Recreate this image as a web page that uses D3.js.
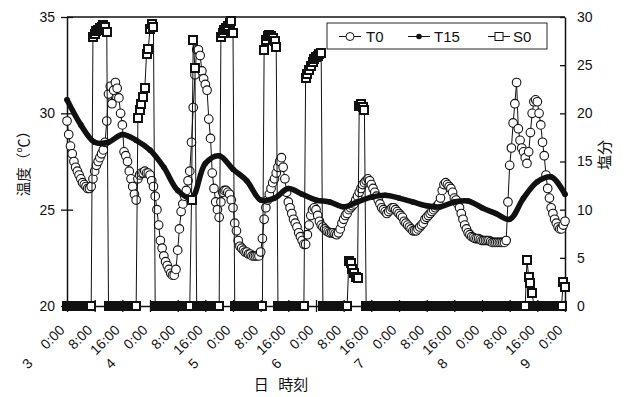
<!DOCTYPE html>
<html><head><meta charset="utf-8">
<script src="https://cdn.jsdelivr.net/npm/d3@7"></script>
<style>
html,body{margin:0;padding:0;background:#fff;}
svg{display:block;font-family:"Liberation Sans",Arial,sans-serif;}
</style></head><body>
<svg id="c" width="631" height="397"></svg>
<script>
// ---- data ----
const seriesNames = ["T0", "T15", "S0"];
const tickTimeLabels = ["0:00","8:00","16:00","0:00","8:00","16:00","0:00","8:00","16:00","0:00","8:00","16:00","0:00","8:00","16:00","0:00","8:00","16:00","0:00"];
const tickDayLabels  = ["3","","","4","","","5","","","6","","","7","","","8","","","9"];
const tempTicks = [20, 25, 30, 35];
const salTicks = [0, 5, 10, 15, 20, 25, 30];

// T0: surface temperature, every 30 minutes from day 3 0:00
const t0StepHours = 0.5;
const t0Values = [
  // day 3
  29.6,28.9,28.3,27.9,27.5,27.2,27.0,26.8,26.6,26.4,26.3,26.2,26.1,26.1,26.2,26.6,
  27.0,27.3,27.5,27.7,27.9,28.1,28.5,29.6,31.0,31.4,30.5,31.2,31.6,31.3,30.8,30.0,
  29.4,28.0,27.8,27.5,27.0,26.6,26.2,25.8,25.5,26.6,26.8,26.9,26.9,27.0,26.9,26.9,
  // day 4
  26.8,26.5,26.2,25.7,25.0,24.2,23.4,23.0,22.6,22.3,22.1,21.9,21.7,21.6,21.6,21.9,
  22.9,24.0,24.9,25.3,25.7,26.0,26.5,27.0,28.5,30.3,32.0,33.3,33.3,33.0,32.2,31.8,
  31.5,31.2,29.7,28.7,26.9,26.1,25.4,25.0,24.6,25.4,25.9,26.0,26.0,25.9,25.8,25.5,
  // day 5
  25.1,24.3,23.9,23.4,23.1,23.0,22.9,22.8,22.8,22.7,22.7,22.6,22.6,22.6,22.6,22.6,
  22.8,23.5,24.5,25.1,25.5,25.8,26.1,26.4,26.6,26.9,27.2,27.5,27.7,27.2,26.6,25.9,
  25.4,25.1,24.8,24.5,24.3,24.1,23.8,23.6,23.4,23.2,23.2,23.7,24.2,24.7,25.0,25.1,
  // day 6
  25.0,24.7,24.4,24.2,24.1,24.0,23.9,23.85,23.8,23.8,23.8,23.75,23.7,23.8,24.0,24.3,
  24.5,24.7,24.8,25.0,25.1,25.2,25.3,25.5,25.7,25.9,26.1,26.3,26.4,26.5,26.6,26.5,
  26.3,26.1,25.9,25.7,25.5,25.3,25.1,25.0,24.9,24.8,24.9,25.0,25.1,25.1,25.0,24.9,
  // day 7
  24.8,24.7,24.6,24.4,24.3,24.2,24.1,24.0,23.9,23.9,23.9,24.0,24.1,24.2,24.3,24.5,
  24.6,24.7,24.8,24.9,25.0,25.1,25.2,25.3,25.6,26.0,26.3,26.4,26.3,26.2,26.1,25.9,
  25.6,25.5,25.3,25.1,24.8,24.5,24.2,24.0,23.8,23.7,23.6,23.55,23.5,23.5,23.5,23.45,
  // day 8
  23.4,23.4,23.4,23.4,23.4,23.35,23.3,23.3,23.3,23.3,23.3,23.3,23.3,23.3,23.4,25.4,
  27.3,28.2,29.5,30.5,31.6,29.2,28.6,28.2,28.0,27.7,27.4,28.0,29.0,30.0,30.6,30.7,
  30.6,30.0,29.4,28.5,27.8,26.8,26.1,25.6,25.1,24.8,24.5,24.3,24.1,24.0,24.0,24.2,
  // day 9 0:00
  24.4
];

// T15: temperature at 15 cm, every 4 hours
const t15StepHours = 4;
const t15Values = [
  30.7,29.4,28.5,28.5,28.9,28.6,
  28.1,27.2,26.0,25.6,27.4,27.8,
  27.1,26.5,25.5,25.6,26.1,25.8,
  25.5,25.4,25.15,25.4,25.65,25.75,
  25.6,25.4,25.2,25.15,25.4,25.45,
  25.1,24.8,24.5,25.6,26.45,26.7,
  25.8
];

// S0: salinity, every 30 minutes
const s0StepHours = 0.5;
const s0Values = [
  // day 3
  0,0,0,0,0,0,0,0,0,0,0,0,0,0,0,
  27.9,28.2,28.5,28.7,28.9,29.0,29.2,29.0,28.4,
  0,0,0,0,0,0,0,0,0,0,0,0,0,0,0,0,0,
  19.5,20.3,21.0,21.7,22.6,26.2,26.7,
  // day 4
  28.8,29.3,29.0,
  0,0,0,0,0,0,0,0,0,0,0,0,0,0,0,0,0,0,0,0,0,
  11.0,27.6,24.7,
  0,0,0,0,0,0,0,0,0,0,0,0,0,0,
  27.9,28.3,28.6,28.9,29.1,29.4,29.6,
  // day 5
  28.3,
  0,0,0,0,0,0,0,0,0,0,0,0,0,0,0,0,0,
  26.6,27.6,28.0,28.1,28.0,27.8,27.5,26.9,
  0,0,0,0,0,0,0,0,0,0,0,0,0,0,0,0,
  23.7,24.1,24.5,24.9,25.3,25.6,
  // day 6
  25.8,26.0,26.2,26.3,
  0,0,0,0,0,0,0,0,0,0,0,0,0,0,0,
  4.7,4.5,3.8,3.4,3.0,2.9,20.8,21.0,20.7,20.3,
  0,0,0,0,0,0,0,0,0,0,0,0,0,0,0,0,0,0,0,
  // day 7
  0,0,0,0,0,0,0,0,0,0,0,0,0,0,0,0,0,0,0,0,0,0,0,0,
  0,0,0,0,0,0,0,0,0,0,0,0,0,0,0,0,0,0,0,0,0,0,0,0,
  // day 8
  0,0,0,0,0,0,0,0,0,0,0,0,0,0,0,0,0,0,0,0,0,0,0,0,0,0,
  4.8,3.0,2.4,1.4,
  0,0,0,0,0,0,0,0,0,0,0,0,0,0,0,0,0,
  2.5,
  // day 9 0:00
  2.0
];

// ---- layout ----
const ink = "#111";
const m = {l: 67, r: 565, t: 17, b: 306};
const totalHours = (tickTimeLabels.length - 1) * 8;
const x = d3.scaleLinear().domain([0, totalHours]).range([m.l, m.r]);
const yT = d3.scaleLinear().domain([20, 35]).range([m.b, m.t]);
const yS = d3.scaleLinear().domain([0, 30]).range([m.b, m.t]);

const svg = d3.select("#c");

// top frame line
svg.append("line").attr("x1", m.l).attr("x2", m.r).attr("y1", m.t).attr("y2", m.t)
  .attr("stroke", ink).attr("stroke-width", 1.4);

// left axis
const gL = svg.append("g").attr("transform", `translate(${m.l},0)`)
  .call(d3.axisLeft(yT).tickValues(tempTicks).tickSizeInner(6).tickSizeOuter(0).tickPadding(6));
gL.selectAll(".tick line").attr("x1", 6);

// right axis
const gR = svg.append("g").attr("transform", `translate(${m.r},0)`)
  .call(d3.axisRight(yS).tickValues(salTicks).tickSizeInner(0).tickSizeOuter(0).tickPadding(12));
gR.selectAll(".tick line").attr("x1", -5).attr("x2", 0);

// bottom axis
const tickHours = tickTimeLabels.map((_, i) => i * 8);
const gB = svg.append("g").attr("transform", `translate(0,${m.b})`)
  .call(d3.axisBottom(x).tickValues(tickHours).tickSizeInner(6).tickSizeOuter(0).tickFormat(""));
gB.selectAll(".tick line").attr("y1", -6);
gB.selectAll(".tick").each(function(d, i) {
  const g = d3.select(this).append("g").attr("transform", "translate(-2,25) rotate(-45)");
  g.append("text").attr("text-anchor", "end").attr("x", 0).attr("y", 0).text(tickTimeLabels[i]);
  if (tickDayLabels[i]) {
    g.append("text").attr("text-anchor", "middle").attr("x", -50).attr("y", 1).text(tickDayLabels[i]);
  }
});

[gL, gR, gB].forEach(g => {
  g.selectAll("path.domain").attr("stroke", ink).attr("stroke-width", 1.5);
  g.selectAll(".tick line").attr("stroke", ink).attr("stroke-width", 1.3);
  g.selectAll("text").attr("fill", ink).attr("font-size", 14)
    .attr("font-family", '"Liberation Sans", Arial, sans-serif');
});

// ---- series ----
const t15Line = d3.line().x((d, i) => x(i * t15StepHours)).y(d => yT(d)).curve(d3.curveCatmullRom.alpha(0.5));
const t0Line = d3.line().x((d, i) => x(i * t0StepHours)).y(d => yT(d));
const s0Line = d3.line().x((d, i) => x(i * s0StepHours)).y(d => yS(d));

// T0
svg.append("path").datum(t0Values).attr("d", t0Line).attr("fill", "none").attr("stroke", ink).attr("stroke-width", 1);
svg.append("g").selectAll("circle").data(t0Values).join("circle")
  .attr("cx", (d, i) => x(i * t0StepHours)).attr("cy", d => yT(d)).attr("r", 4.3)
  .attr("fill", "#fff").attr("stroke", ink).attr("stroke-width", 1.1);

// T15
svg.append("path").datum(t15Values).attr("d", t15Line).attr("fill", "none").attr("stroke", ink)
  .attr("stroke-width", 5.5).attr("stroke-linejoin", "round").attr("stroke-linecap", "round");
svg.append("g").selectAll("circle").data(t15Values).join("circle")
  .attr("cx", (d, i) => x(i * t15StepHours)).attr("cy", d => yT(d)).attr("r", 2.8).attr("fill", ink);

// S0
svg.append("path").datum(s0Values).attr("d", s0Line).attr("fill", "none").attr("stroke", ink).attr("stroke-width", 1);
const sq = 8;
svg.append("g").attr("shape-rendering", "crispEdges").selectAll("rect").data(s0Values).join("rect")
  .attr("x", (d, i) => x(i * s0StepHours) - sq / 2).attr("y", d => yS(d) - sq / 2)
  .attr("width", sq).attr("height", sq)
  .attr("fill", "#fff").attr("stroke", ink).attr("stroke-width", 2);

// ---- axis titles ----
const cjk = '"Noto Sans CJK JP", sans-serif';
svg.append("text").attr("transform", "translate(29,160) rotate(-90)").attr("text-anchor", "middle")
  .attr("font-family", cjk).attr("font-size", 14.5).attr("fill", ink).text("温度（℃）");
svg.append("text").attr("transform", "translate(610,155) rotate(-90)").attr("text-anchor", "middle")
  .attr("font-family", cjk).attr("font-size", 15).attr("fill", ink).text("塩分");
svg.append("text").attr("x", 281).attr("y", 390).attr("text-anchor", "middle")
  .attr("font-family", cjk).attr("font-size", 15).attr("word-spacing", 6).attr("fill", ink).text("日 時刻");

// ---- legend ----
const lg = svg.append("g");
lg.append("rect").attr("x", 327).attr("y", 23).attr("width", 220).attr("height", 26)
  .attr("fill", "#fff").attr("stroke", ink).attr("stroke-width", 0.9);
const legendItems = [
  {name: seriesNames[0], lx: 339, tx: 366, kind: "circle"},
  {name: seriesNames[1], lx: 408, tx: 434, kind: "dot"},
  {name: seriesNames[2], lx: 488, tx: 513, kind: "square"}
];
const ly = 36.5;
legendItems.forEach(it => {
  lg.append("line").attr("x1", it.lx).attr("x2", it.lx + 22).attr("y1", ly).attr("y2", ly).attr("stroke", ink).attr("stroke-width", 1);
  const cx = it.lx + 11;
  if (it.kind === "circle") lg.append("circle").attr("cx", cx).attr("cy", ly).attr("r", 4).attr("fill", "#fff").attr("stroke", ink);
  if (it.kind === "dot") lg.append("circle").attr("cx", cx).attr("cy", ly).attr("r", 2.8).attr("fill", ink);
  if (it.kind === "square") lg.append("rect").attr("x", cx - 4).attr("y", ly - 4).attr("width", 8).attr("height", 8).attr("fill", "#fff").attr("stroke", ink);
  lg.append("text").attr("x", it.tx).attr("y", ly + 5.5).attr("font-size", 15).attr("fill", ink).text(it.name);
});
</script>
</body></html>
